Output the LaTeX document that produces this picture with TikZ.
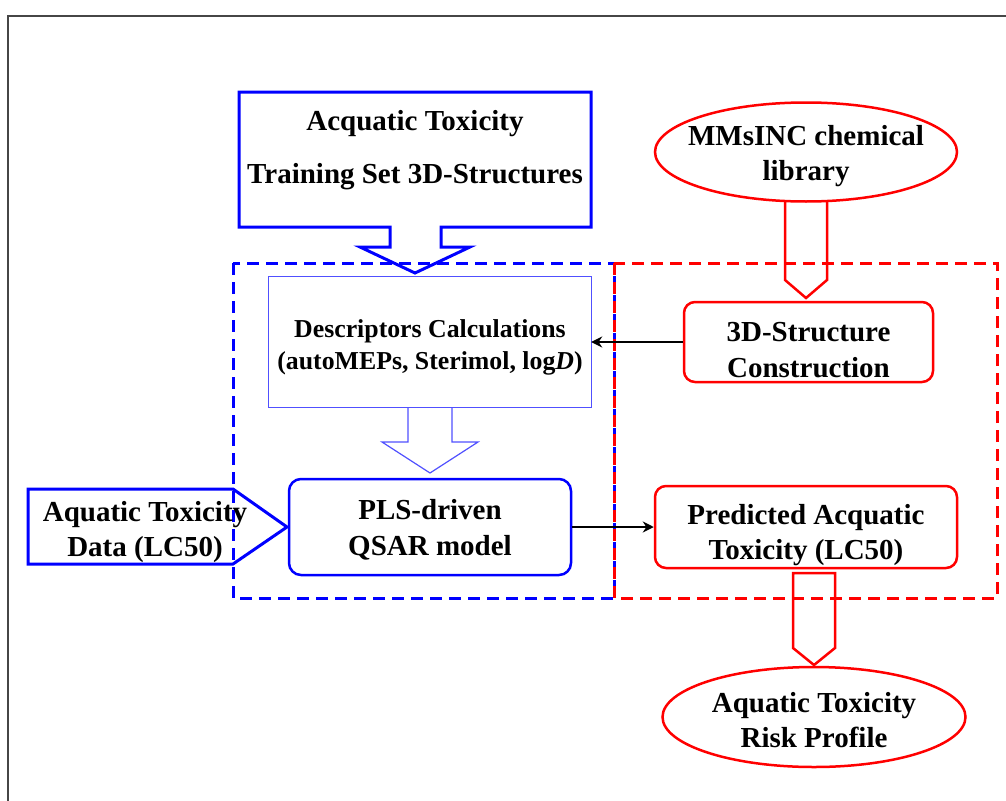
\documentclass[tikz,border=0pt]{standalone}
\usepackage{fontspec}
\setmainfont{Liberation Serif}
\usetikzlibrary{arrows.meta,shapes.geometric}
\definecolor{pblue}{RGB}{0,0,255}
\definecolor{pred}{RGB}{255,0,0}
\definecolor{lblue}{RGB}{80,80,255}
\definecolor{framegray}{RGB}{70,70,70}
\newcommand{\mainfs}{\fontsize{29}{35.5}\selectfont\bfseries}
\newcommand{\smallfs}{\fontsize{25.8}{32}\selectfont\bfseries}
\begin{document}
\begin{tikzpicture}[x=1pt,y=-1pt,
  txt/.style={align=center,inner sep=0pt,font=\mainfs},
  bluebox/.style={draw=pblue,line width=2.5pt,rounded corners=12pt,inner sep=0pt},
  redbox/.style={draw=pred,line width=2.5pt,rounded corners=11pt,inner sep=0pt},
  redell/.style={draw=pred,line width=2.5pt,ellipse,inner sep=0pt},
  bluedash/.style={draw=pblue,line width=3pt,dash pattern=on 12pt off 7pt},
  reddash/.style={draw=pred,line width=3pt,dash pattern=on 12pt off 7pt},
  blackarrow/.style={draw=black,line width=2.3pt,-{Stealth[length=11pt,width=11pt]}},
]
\useasboundingbox (0,0) rectangle (1006,800);
% frame
\draw[framegray,line width=2pt] (8,810) -- (8,16) -- (1010,16);

% dashed regions
\draw[bluedash] (233,263) rectangle (614,598);
\draw[reddash] (614,263) rectangle (997,598);

% top callout
\draw[pblue,line width=3pt,line join=miter] (239,92) -- (591,92) -- (591,227) -- (441,227) -- (441,247) -- (470,247) -- (415,273) -- (360,247) -- (390,247) -- (390,227) -- (239,227) -- cycle;
\node[txt] (train) at (415,150) {Acquatic Toxicity\\[17.5pt]Training Set 3D-Structures};

% descriptors
\node[minimum width=322pt,minimum height=130pt,inner sep=0pt] (desc) at (430,342) {};
\draw[lblue,line width=1.2pt] (desc.north west) rectangle (desc.south east);
\node[align=center,inner sep=0pt,font=\smallfs] (desctxt) at ([yshift=-5pt]desc.center) {Descriptors Calculations\\(autoMEPs, Sterimol, log\textit{D})};
\draw[lblue,line width=1.2pt] (408,407) -- (408,442) -- (382,442) -- (430,473) -- (478,442) -- (452,442) -- (452,407);

% PLS
\node[bluebox,minimum width=282pt,minimum height=96pt] (pls) at (430,527) {};
\node[txt] (plstxt) at ([yshift=-3pt]pls.center) {PLS-driven\\QSAR model};

% data arrow
\draw[pblue,line width=3pt] (28,489) -- (233,489) -- (287,527) -- (233,564) -- (28,564) -- cycle;
\node[txt] (data) at (145,532) {Aquatic Toxicity\\Data (LC50)};

% MMsINC
\node[redell,minimum width=302pt,minimum height=99pt] (lib) at (806,152) {};
\node[txt] (libtxt) at ([yshift=-4pt]lib.center) {MMsINC chemical\\library};
\draw[pred,line width=2.5pt] (785,200) -- (785,280) -- (806,298) -- (827,280) -- (827,200);

% 3D structure
\node[redbox,minimum width=249pt,minimum height=80pt] (struct) at (808.5,342) {};
\node[txt] (structtxt) at ([yshift=-8pt]struct.center) {3D-Structure\\Construction};

% predicted
\node[redbox,minimum width=302pt,minimum height=82pt] (pred) at (806,527) {};
\node[txt] (predtxt) at ([yshift=-8pt]pred.center) {Predicted Acquatic\\Toxicity (LC50)};
\draw[pred,line width=2.5pt] (793,573) -- (793,648) -- (814,665) -- (835,648) -- (835,573) -- cycle;

% risk
\node[redell,minimum width=303pt,minimum height=100pt] (risk) at (814,717) {};
\node[txt] (risktxt) at ([yshift=-3pt]risk.center) {Aquatic Toxicity\\Risk Profile};

% connectors
\draw[blackarrow] (struct.west) -- (desc.east);
\draw[blackarrow] (pls.east) -- (pred.west);
\end{tikzpicture}
\end{document}
